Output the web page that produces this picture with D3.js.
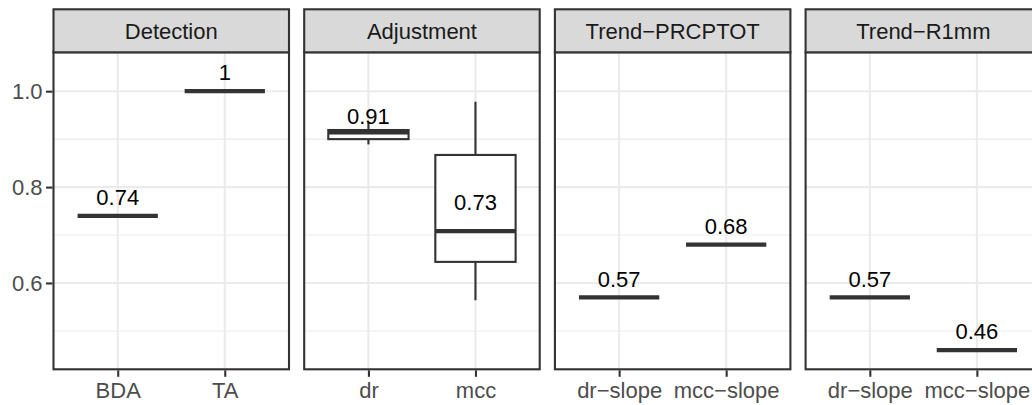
<!DOCTYPE html>
<html>
<head>
<meta charset="utf-8">
<script src="https://cdn.jsdelivr.net/npm/d3@7"></script>
<style>
  html, body { margin: 0; padding: 0; background: #ffffff; }
  svg { display: block; }
  text { font-family: "Liberation Sans", Arial, Helvetica, sans-serif; }
</style>
</head>
<body>
<svg id="chart" width="1032" height="405"></svg>
<script>
// Facet titles and the two groups shown in each facet
const panels = ["Detection", "Adjustment", "Trend\u2212PRCPTOT", "Trend\u2212R1mm"];
const categories = [
  ["BDA", "TA"],
  ["dr", "mcc"],
  ["dr\u2212slope", "mcc\u2212slope"],
  ["dr\u2212slope", "mcc\u2212slope"]
];

// Box statistics per facet, in the order of `categories`
const whiskerLow  = [[0.74, 1.00], [0.889, 0.564], [0.57, 0.68], [0.57, 0.46]];
const lowerQuart  = [[0.74, 1.00], [0.900, 0.644], [0.57, 0.68], [0.57, 0.46]];
const medians     = [[0.74, 1.00], [0.914, 0.708], [0.57, 0.68], [0.57, 0.46]];
const upperQuart  = [[0.74, 1.00], [0.919, 0.867], [0.57, 0.68], [0.57, 0.46]];
const whiskerHigh = [[0.74, 1.00], [0.936, 0.978], [0.57, 0.68], [0.57, 0.46]];
// Group means, printed above each box
const means       = [[0.74, 1.00], [0.91, 0.73], [0.57, 0.68], [0.57, 0.46]];

const yTicks = [0.6, 0.8, 1.0];
const yMinorTicks = [0.5, 0.7, 0.9];

// Layout
const svg = d3.select("#chart");
const panelLeft = 53.5, panelW = 235.5, panelStep = 250.7;
const stripTop = 9.3, panelTop = 52.3, panelBottom = 369.3;
const dark = "#333333";
const fontSize = 22;

const y = d3.scaleLinear().domain([0.42, 1.0811]).range([panelBottom, panelTop]);
const labelOffset = 0.0225;   // baseline of the mean label sits just above the value
const fmt = v => String(+v.toFixed(2));

panels.forEach((title, i) => {
  const x0 = panelLeft + i * panelStep;
  const x = d3.scalePoint().domain(categories[i]).range([x0, x0 + panelW]).padding(0.6);
  const boxW = x.step() * 0.75;
  const g = svg.append("g");

  // panel background
  g.append("rect").attr("x", x0).attr("y", panelTop).attr("width", panelW)
    .attr("height", panelBottom - panelTop).attr("fill", "#ffffff");

  // grid lines
  g.selectAll(".minor").data(yMinorTicks).join("line")
    .attr("x1", x0).attr("x2", x0 + panelW)
    .attr("y1", d => y(d)).attr("y2", d => y(d))
    .attr("stroke", "#EBEBEB").attr("stroke-width", 1.1);
  g.selectAll(".major").data(yTicks).join("line")
    .attr("x1", x0).attr("x2", x0 + panelW)
    .attr("y1", d => y(d)).attr("y2", d => y(d))
    .attr("stroke", "#EBEBEB").attr("stroke-width", 2.1);
  g.selectAll(".vgrid").data(categories[i]).join("line")
    .attr("x1", d => x(d)).attr("x2", d => x(d))
    .attr("y1", panelTop).attr("y2", panelBottom)
    .attr("stroke", "#EBEBEB").attr("stroke-width", 2.1);

  const rows = categories[i].map((c, j) => ({
    c,
    lo: whiskerLow[i][j], q1: lowerQuart[i][j], med: medians[i][j],
    q3: upperQuart[i][j], hi: whiskerHigh[i][j], mean: means[i][j]
  }));

  // whiskers
  g.selectAll(".wu").data(rows).join("line")
    .attr("x1", d => x(d.c)).attr("x2", d => x(d.c))
    .attr("y1", d => y(d.q3)).attr("y2", d => y(d.hi))
    .attr("stroke", dark).attr("stroke-width", 2.1);
  g.selectAll(".wl").data(rows).join("line")
    .attr("x1", d => x(d.c)).attr("x2", d => x(d.c))
    .attr("y1", d => y(d.q1)).attr("y2", d => y(d.lo))
    .attr("stroke", dark).attr("stroke-width", 2.1);

  // boxes
  g.selectAll(".box").data(rows).join("rect")
    .attr("x", d => x(d.c) - boxW / 2).attr("width", boxW)
    .attr("y", d => y(d.q3)).attr("height", d => y(d.q1) - y(d.q3))
    .attr("fill", "#ffffff").attr("stroke", dark).attr("stroke-width", 2.1);

  // medians
  g.selectAll(".med").data(rows).join("line")
    .attr("x1", d => x(d.c) - boxW / 2).attr("x2", d => x(d.c) + boxW / 2)
    .attr("y1", d => y(d.med)).attr("y2", d => y(d.med))
    .attr("stroke", dark).attr("stroke-width", 4.3);

  // mean labels
  g.selectAll(".lab").data(rows).join("text")
    .attr("x", d => x(d.c)).attr("y", d => y(d.mean + labelOffset))
    .attr("text-anchor", "middle")
    .attr("font-size", fontSize).attr("fill", "#000000")
    .text(d => fmt(d.mean));

  // panel border
  g.append("rect").attr("x", x0).attr("y", panelTop).attr("width", panelW)
    .attr("height", panelBottom - panelTop)
    .attr("fill", "none").attr("stroke", dark).attr("stroke-width", 2.1);

  // strip
  g.append("rect").attr("x", x0).attr("y", stripTop).attr("width", panelW)
    .attr("height", panelTop - stripTop)
    .attr("fill", "#D9D9D9").attr("stroke", dark).attr("stroke-width", 2.1);
  g.append("text").attr("x", x0 + panelW / 2).attr("y", 39.3)
    .attr("text-anchor", "middle")
    .attr("font-size", fontSize).attr("fill", "#1A1A1A").text(title);

  // x axis
  const xa = g.append("g").attr("transform", `translate(0,${panelBottom + 1})`)
    .call(d3.axisBottom(x).tickSize(6.5).tickPadding(6));
  xa.select(".domain").remove();
  xa.selectAll(".tick line").attr("stroke", dark).attr("stroke-width", 2.1);
  xa.selectAll(".tick text").attr("font-size", fontSize).attr("fill", "#4D4D4D")
    .attr("font-family", "Liberation Sans, Arial, sans-serif");

  // y axis on the first facet only
  if (i === 0) {
    const ya = g.append("g").attr("transform", `translate(${x0 - 1},0)`)
      .call(d3.axisLeft(y).tickValues(yTicks).tickFormat(d3.format(".1f"))
        .tickSize(6.5).tickPadding(3.5));
    ya.select(".domain").remove();
    ya.selectAll(".tick line").attr("stroke", dark).attr("stroke-width", 2.1);
    ya.selectAll(".tick text").attr("font-size", fontSize).attr("fill", "#4D4D4D")
      .attr("font-family", "Liberation Sans, Arial, sans-serif");
  }
});
</script>
</body>
</html>
